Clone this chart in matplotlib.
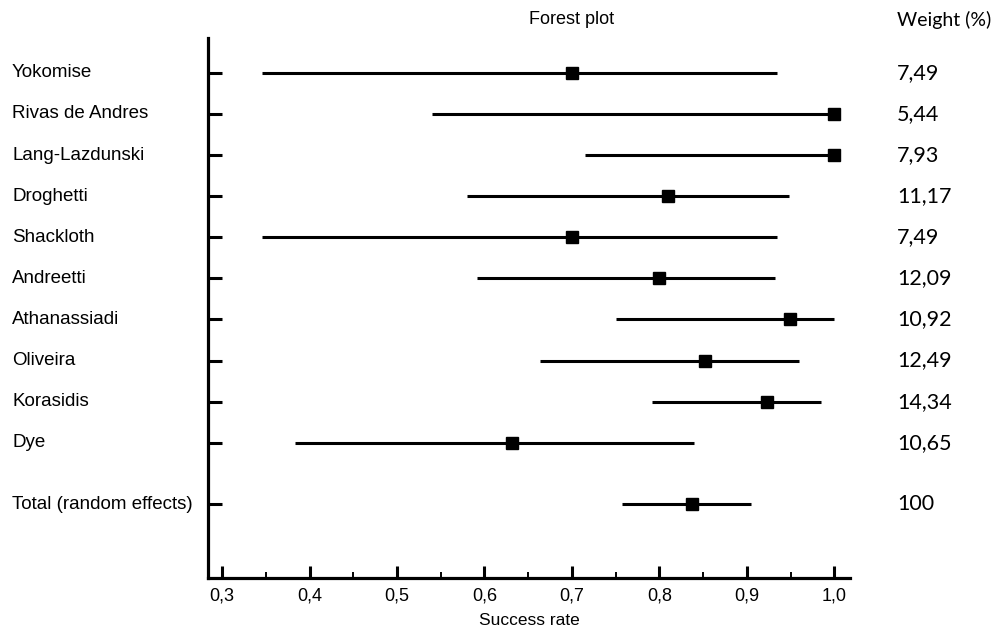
#!/usr/bin/env python3
# forest plot of success rate per study, with weights on the right

import matplotlib
matplotlib.use("Agg")
import matplotlib.pyplot as plt
import matplotlib.transforms as mtransforms
from matplotlib.ticker import FixedLocator

studies = ["Yokomise", "Rivas de Andres", "Lang-Lazdunski", "Droghetti", "Shackloth",
           "Andreetti", "Athanassiadi", "Oliveira", "Korasidis", "Dye",
           "Total (random effects)"]
rate = [0.700, 1.000, 1.000, 0.810, 0.700, 0.799, 0.949, 0.852, 0.923, 0.631, 0.837]
ci_low = [0.346, 0.540, 0.715, 0.580, 0.346, 0.591, 0.750, 0.663, 0.791, 0.383, 0.757]
ci_high = [0.934, 1.000, 1.000, 0.948, 0.934, 0.932, 1.000, 0.959, 0.985, 0.839, 0.905]
weights = ["7,49", "5,44", "7,93", "11,17", "7,49", "12,09", "10,92", "12,49", "14,34", "10,65", "100"]
# row positions: studies one apart, pooled row a little further down
rows = list(range(10)) + [10.5]
x_ticks = [0.3, 0.4, 0.5, 0.6, 0.7, 0.8, 0.9, 1.0]

fig = plt.figure(figsize=(9.94, 6.31), dpi=100)
ax = fig.add_axes([0.2093, 0.084, 0.646, 0.856])

for y, lo, hi, r in zip(rows, ci_low, ci_high, rate):
    ax.plot([lo, hi], [y, y], color="black", lw=2.2, solid_capstyle="butt", zorder=2)
    ax.plot(r, y, marker="s", ms=8.5, color="black", zorder=3)

ax.set_xlim(0.284, 1.018)
ax.set_ylim(12.29, -0.85)

for s in ["top", "right"]:
    ax.spines[s].set_visible(False)
for s in ["left", "bottom"]:
    ax.spines[s].set_linewidth(2.3)

ax.xaxis.set_major_locator(FixedLocator(x_ticks))
ax.set_xticklabels([("%.1f" % v).replace(".", ",") for v in x_ticks],
                   fontsize=13, family="Liberation Sans")
ax.xaxis.set_minor_locator(FixedLocator([v + 0.05 for v in x_ticks[:-1]]))
ax.tick_params(axis="x", which="major", direction="in", length=8.5, width=2.2, pad=7)
ax.tick_params(axis="x", which="minor", direction="in", length=4.5, width=1.4)

ax.set_yticks(rows)
ax.set_yticklabels([])
ax.tick_params(axis="y", direction="in", length=10, width=2.2)

ax.set_xlabel("Success rate", fontsize=12.5, family="Liberation Sans", labelpad=6)

# study names on the left, weights on the right
name_tf = mtransforms.blended_transform_factory(fig.transFigure, ax.transData)
for y, name, w in zip(rows, studies, weights):
    ax.text(12 / 994, y, name, transform=name_tf, ha="left", va="center",
            fontsize=13.5, family="Liberation Sans")
    ax.text(897 / 994, y, w, transform=name_tf, ha="left", va="center",
            fontsize=15.5, family="Lato")

fig.text(572 / 994, 1 - 20 / 631, "Forest plot", ha="center", va="center",
         fontsize=13, family="Liberation Sans")
fig.text(897 / 994, 1 - 20 / 631, "Weight (%)", ha="left", va="center",
         fontsize=14, family="Lato")

fig.savefig("out.png", dpi=100, facecolor="white")
